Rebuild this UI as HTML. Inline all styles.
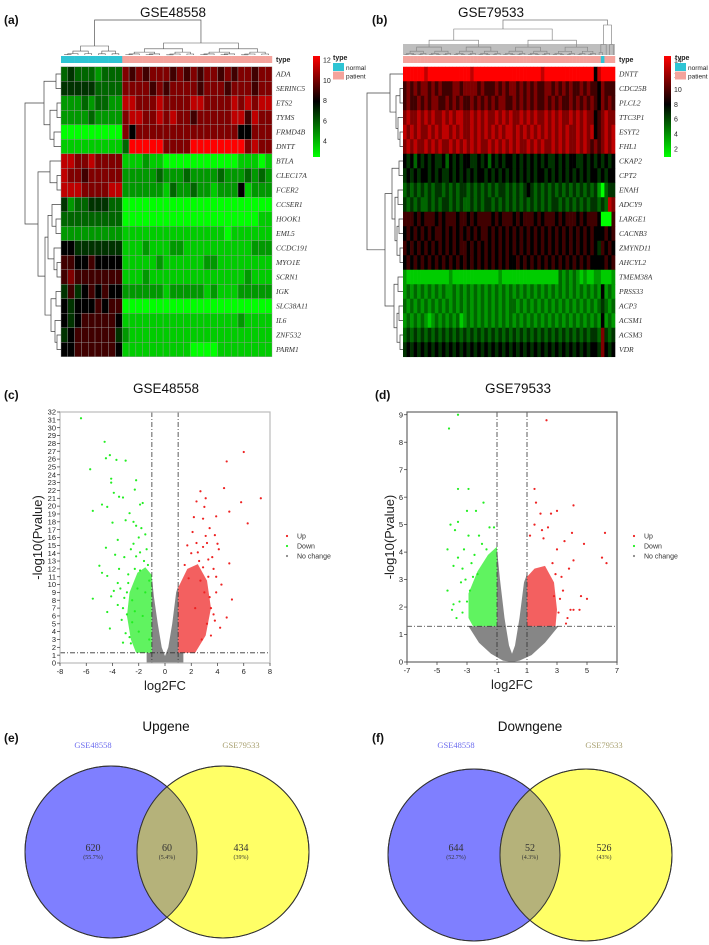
<!DOCTYPE html>
<html><head><meta charset="utf-8"><style>
html,body{margin:0;padding:0;background:#fff}
svg{display:block}
text{font-family:"Liberation Sans",sans-serif}
.gene{font-family:"Liberation Serif",serif;font-style:italic;font-size:7.5px;fill:#333}
.tick{font-size:7.5px;fill:#222}
.lab{font-weight:bold;font-size:12px;fill:#111}
.ttl{font-size:13.5px;fill:#111}
</style></head><body>
<svg id="fig" width="709" height="945" viewBox="0 0 709 945" xmlns="http://www.w3.org/2000/svg">
<defs>
<linearGradient id="gA" x1="0" y1="0" x2="0" y2="1"><stop offset="0" stop-color="#ff0000"/><stop offset="0.45" stop-color="#000"/><stop offset="1" stop-color="#00ff00"/></linearGradient>
<linearGradient id="gB" x1="0" y1="0" x2="0" y2="1"><stop offset="0" stop-color="#ff0000"/><stop offset="0.48" stop-color="#000"/><stop offset="1" stop-color="#00ff00"/></linearGradient>
<clipPath id="clipE"><circle cx="111" cy="852" r="86"/></clipPath>
<clipPath id="clipF"><circle cx="474" cy="855" r="86"/></clipPath>
</defs>

<text class="lab" x="4" y="24">(a)</text>
<text class="ttl" x="173" y="17" text-anchor="middle">GSE48558</text>
<text class="lab" x="372" y="24">(b)</text>
<text class="ttl" x="491" y="17" text-anchor="middle">GSE79533</text>
<text class="lab" x="4" y="399">(c)</text>
<text class="ttl" x="166" y="393" text-anchor="middle">GSE48558</text>
<text class="lab" x="375" y="399">(d)</text>
<text class="ttl" x="518" y="393" text-anchor="middle">GSE79533</text>
<text class="lab" x="4" y="742">(e)</text>
<text class="ttl" x="166" y="731" text-anchor="middle">Upgene</text>
<text class="lab" x="372" y="742">(f)</text>
<text class="ttl" x="530" y="731" text-anchor="middle">Downgene</text>

<g id="heatA"></g>
<g id="heatB"></g>
<g id="volC"></g>
<g id="volD"></g>

<g>
<circle cx="111" cy="852" r="86" fill="#7f7fff" stroke="#333" stroke-width="1"/>
<circle cx="223" cy="852" r="86" fill="#ffff66" stroke="#333" stroke-width="1"/>
<circle cx="223" cy="852" r="86" fill="#b5b27a" clip-path="url(#clipE)"/>
<circle cx="111" cy="852" r="86" fill="none" stroke="#333" stroke-width="1"/>
<circle cx="223" cy="852" r="86" fill="none" stroke="#333" stroke-width="1"/>
<text x="93" y="748" text-anchor="middle" font-size="8.5" fill="#6b6bee" style="font-family:'Liberation Serif',serif">GSE48558</text>
<text x="241" y="748" text-anchor="middle" font-size="8.5" fill="#a8a070" style="font-family:'Liberation Serif',serif">GSE79533</text>
<text x="93" y="851" text-anchor="middle" font-size="10" fill="#333" style="font-family:'Liberation Serif',serif">620</text>
<text x="93" y="859" text-anchor="middle" font-size="6" fill="#333" style="font-family:'Liberation Serif',serif">(55.7%)</text>
<text x="167" y="851" text-anchor="middle" font-size="10" fill="#333" style="font-family:'Liberation Serif',serif">60</text>
<text x="167" y="859" text-anchor="middle" font-size="6" fill="#333" style="font-family:'Liberation Serif',serif">(5.4%)</text>
<text x="241" y="851" text-anchor="middle" font-size="10" fill="#333" style="font-family:'Liberation Serif',serif">434</text>
<text x="241" y="859" text-anchor="middle" font-size="6" fill="#333" style="font-family:'Liberation Serif',serif">(39%)</text>
</g>
<g>
<circle cx="474" cy="855" r="86" fill="#7f7fff" stroke="#333" stroke-width="1"/>
<circle cx="586" cy="855" r="86" fill="#ffff66" stroke="#333" stroke-width="1"/>
<circle cx="586" cy="855" r="86" fill="#b5b27a" clip-path="url(#clipF)"/>
<circle cx="474" cy="855" r="86" fill="none" stroke="#333" stroke-width="1"/>
<circle cx="586" cy="855" r="86" fill="none" stroke="#333" stroke-width="1"/>
<text x="456" y="748" text-anchor="middle" font-size="8.5" fill="#6b6bee" style="font-family:'Liberation Serif',serif">GSE48558</text>
<text x="604" y="748" text-anchor="middle" font-size="8.5" fill="#a8a070" style="font-family:'Liberation Serif',serif">GSE79533</text>
<text x="456" y="851" text-anchor="middle" font-size="10" fill="#333" style="font-family:'Liberation Serif',serif">644</text>
<text x="456" y="859" text-anchor="middle" font-size="6" fill="#333" style="font-family:'Liberation Serif',serif">(52.7%)</text>
<text x="530" y="851" text-anchor="middle" font-size="10" fill="#333" style="font-family:'Liberation Serif',serif">52</text>
<text x="530" y="859" text-anchor="middle" font-size="6" fill="#333" style="font-family:'Liberation Serif',serif">(4.3%)</text>
<text x="604" y="851" text-anchor="middle" font-size="10" fill="#333" style="font-family:'Liberation Serif',serif">526</text>
<text x="604" y="859" text-anchor="middle" font-size="6" fill="#333" style="font-family:'Liberation Serif',serif">(43%)</text>
</g>
</svg>
<script>
const genesA = ["ADA","SERINC5","ETS2","TYMS","FRMD4B","DNTT","BTLA","CLEC17A","FCER2","CCSER1","HOOK1","EML5","CCDC191","MYO1E","SCRN1","IGK","SLC38A11","IL6","ZNF532","PARM1"];
const groupsA = ["N","N","N","N","N","N","N","N","N","P","P","P","P","P","P","P","P","P","P","P","P","P","P","P","P","P","P","P","P","P","P"];
const valuesA = [
"343332333"+"7676777676767767677677",
"444443333"+"7777676777767776777677",
"222323322"+"8877787777887777878788",
"222232222"+"7887787877677777886877",
"000000000"+"7577777777777777755777",
"111111111"+"3999997777999999997877",
"887787777"+"1112110000000000011101",
"877677777"+"2222232223222232223232",
"888777788"+"2222221322322122251222",
"423344433"+"0000000000000000000000",
"333333333"+"0000000000000000000011",
"222222222"+"1111111111111110111111",
"554444444"+"1112111221111111111222",
"665565555"+"1111121111112211111111",
"676666666"+"1112111111111111112111",
"464565655"+"2222221222221211122222",
"545556566"+"0000000000000000000000",
"545666665"+"1111111111111111121111",
"456666664"+"2111111111111111111111",
"556666665"+"1111111111000011111111"];
const ticksA = ["12","10","8","6","4"];

const genesB = ["DNTT","CDC25B","PLCL2","TTC3P1","ESYT2","FHL1","CKAP2","CPT2","ENAH","ADCY9","LARGE1","CACNB3","ZMYND11","AHCYL2","TMEM38A","PRSS33","ACP3","ACSM1","ACSM3","VDR"];
const normalColB = 56;
const valuesB = [
"999999899999999999989999999999999999999899999999999999589999",
"676767767676667767777676667676776767676677676767667676657666",
"676676767766767676676767676776676767676676767667676767657676",
"787787878778787887787878778787877878787787878778787877567877",
"878787787878878787787878787878878787878787878787787878567878",
"787877878787787878787877878787878778787877878787787876767878",
"545354545445354545544545354545545454545454454545544545454545",
"454545545454454545454554545454545454545545454545454545545455",
"343434343443434344343434343443434345434343434343434343420344",
"434343343434434343343434434343434343434343443434343434434387",
"666565666565666566565666656566656566656566656566656566650006",
"565656565665656565656566565656565656565656565656565656555656",
"656565656565656566565656565656565656565656565656565656546565",
"565656565656565656565656565656556565656565656565656565555656",
"211111111111121111111111111211111111111111113232321211221112",
"232323232323223232323232323232323232323232323232323232325232",
"323232323232323232323232323232332323232323232323232323234323",
"232323212323232312323232323232323232323232323232323232325232",
"343434343434343434343434343434343434343434343434343434437434",
"454545454545454545454545454545454545454545454545454545547545"];
const ticksB = ["14","12","10","8","6","4","2"];

const cDown = [[-6.4,31.2],[-4.6,28.2],[-4.2,26.5],[-4.5,26.1],[-3.7,25.9],[-3.0,25.8],[-5.7,24.7],[-4.1,23.5],[-4.1,23],[-2.2,23.3],[-2.3,22.1],[-3.9,21.7],[-3.5,21.2],[-3.2,21.1],[-4.8,20.2],[-4.4,19.9],[-1.9,20.2],[-1.7,20.4],[-5.5,19.4],[-2.7,19.1],[-3.0,18.2],[-4.0,17.9],[-2.4,18.0],[-2.2,17.5],[-3.6,15.7],[-1.5,16.4],[-2.0,16.0],[-4.5,14.7],[-5.0,12.4],[-4.8,11.5],[-4.4,11.1],[-5.5,8.2],[-4.2,4.4],[-3.9,9.2],[-4.4,6.5],[-3.2,7],[-2.9,9],[-3.5,12],[-3.1,13.5],[-2.6,14.5],[-2.3,12],[-2.8,11.3],[-1.9,14.1],[-1.6,13],[-1.3,12.5],[-1.2,10.5],[-1.5,9],[-2.1,9.5],[-2.5,8],[-3.3,5.5],[-2.0,4],[-1.2,3],[-1.7,6],[-3.6,10.2],[-2.4,15.2],[-1.8,17.2],[-3.8,13.8],[-2.9,6.2],[-3.0,3.8],[-2.6,2.5],[-1.4,14.5],[-2.2,13.6],[-4.1,8.5],[-3.4,9.5],[-2.8,10.2],[-2.5,5.2],[-3.1,8.3],[-2.3,6.6],[-3.6,7.4],[-1.9,11.8],[-2.7,3.3],[-3.2,2.6]];
const cDownCluster = [[-1,1.3],[-1,11.2],[-1.5,12.2],[-2.1,11.5],[-2.7,9],[-2.9,6],[-2.6,3],[-2.2,1.3]];
const cUp = [[6.0,26.9],[4.7,25.7],[4.5,22.3],[2.7,21.9],[3.1,21],[7.3,21],[2.4,20.6],[5.8,20.5],[3.0,19.9],[4.9,19.3],[2.2,18.6],[2.9,18.4],[3.9,18.7],[6.3,17.8],[3.4,17.2],[2.1,16.7],[3.8,16.3],[4.1,14.5],[3.2,15.3],[4.9,12.7],[5.1,8.1],[4.7,5.8],[3.5,7],[3.8,5.4],[3.9,9],[3.3,11],[2.6,13],[3.6,13.5],[2.9,14.8],[3.0,9],[2.3,7],[3.2,5],[1.7,15],[2.4,15.3],[3.7,12],[4.3,10],[2.8,3],[4.2,4.5],[3.1,16.2],[2.0,14],[1.5,12.5],[4.0,15.2],[2.7,10.5],[3.5,3.5],[1.8,10.8],[3.4,8.4],[3.7,6.2],[2.9,12.2],[3.9,11],[2.5,14.1],[3.3,13.2]];
const cUpCluster = [[1,1.3],[1,9.6],[1.7,12],[2.5,12.6],[3.2,10.5],[3.5,7],[3.1,3.5],[2.3,1.3]];
const cNoChange = [[-1.4,0],[-1.4,1.3],[-1,1.3],[-1,11],[-0.85,8.5],[-0.55,5],[-0.25,2],[0,0.9],[0.25,2],[0.55,5],[0.85,9],[1,9.8],[1,1.3],[1.4,1.3],[1.4,0]];

const dDown = [[-3.6,9],[-4.2,8.5],[-3.6,6.3],[-2.9,6.3],[-1.9,5.8],[-3.0,5.5],[-2.4,5.5],[-3.6,5.1],[-4.1,5],[-3.8,4.8],[-1.5,4.9],[-1.2,4.9],[-2.9,4.6],[-2.2,4.6],[-4.3,4.1],[-3.2,4.1],[-2.0,4.3],[-3.6,3.8],[-3.3,3.4],[-4.3,2.6],[-3.9,3.5],[-2.7,3.6],[-2.3,3.2],[-3.1,3],[-3.5,2.2],[-3.9,2.1],[-2.8,2.6],[-3.3,1.8],[-3.7,1.6],[-4.0,1.9],[-2.5,3.9],[-1.7,4.1],[-3.0,2.2],[-3.4,2.9],[-2.6,3.1]];
const dDownCluster = [[-1,1.3],[-1,4.2],[-1.6,3.9],[-2.3,3.3],[-2.9,2.5],[-2.9,1.6],[-2.6,1.3]];
const dUp = [[2.3,8.8],[1.5,6.3],[1.6,5.8],[4.1,5.7],[3.0,5.5],[1.9,5.4],[2.6,5.4],[1.5,5],[2.4,4.9],[2.0,4.8],[3.5,4.4],[4.0,4.7],[6.2,4.7],[4.8,4.3],[2.1,4.5],[3.0,4.1],[1.2,4.6],[6.0,3.8],[6.3,3.6],[4.1,3.7],[3.8,3.4],[2.7,3.6],[3.3,3.1],[4.6,2.4],[5.0,2.3],[3.9,1.9],[4.1,1.9],[3.7,1.6],[3.2,2.3],[2.9,3.2],[3.6,1.4],[4.5,1.9],[3.4,2.6],[3.1,1.8],[2.8,2.4]];
const dUpCluster = [[1,1.3],[1,3.1],[1.5,3.4],[2.2,3.5],[2.8,2.9],[3.0,1.9],[2.9,1.3]];
const dNoChange = [[-2.9,1.3],[-1,1.3],[-1,4.1],[-0.8,3.0],[-0.5,1.6],[-0.2,0.6],[0,0.3],[0.2,0.6],[0.5,1.6],[0.8,2.9],[1,3.2],[1,1.3],[3.1,1.3],[2.2,0.7],[1.3,0.25],[0.5,0.05],[0,0],[-0.6,0.05],[-1.4,0.3],[-2.2,0.7]];

const NS = "http://www.w3.org/2000/svg";
function mk(tag, attrs, parent){const e=document.createElementNS(NS,tag);for(const k in attrs)e.setAttribute(k,attrs[k]);if(parent)parent.appendChild(e);return e;}
function col(v){v=+v; if(v<=5){const g=Math.round(255*(5-v)/5);return `rgb(0,${g},0)`;} const r=Math.round(255*(v-5)/4);return `rgb(${r},0,0)`;}

const rowTop = 66.75, rowH = 14.5;
function drawHeat(gid, genes, values, L, R, nCols, grid, groupFn){
  const g=document.getElementById(gid);
  const cw=(R-L)/nCols;
  for(let j=0;j<nCols;j++){
    const r=mk('rect',{x:L+j*cw,y:56,width:cw+0.2,height:7,fill:groupFn(j)==='N'?'#2ec4d4':'#f4a39c'},g);
    
    
  }
  values.forEach((rowStr,i)=>{
    const s=rowStr.padEnd(nCols,rowStr[rowStr.length-1]).slice(0,nCols);
    for(let j=0;j<nCols;j++){
      const r=mk('rect',{x:L+j*cw,y:rowTop+i*rowH,width:cw+(grid?0:0.3),height:rowH+(grid?0:0.3),fill:col(s[j])},g);
      if(grid){r.setAttribute('stroke','#999');r.setAttribute('stroke-width','0.4');}
      
      
    }
    const t=mk('text',{x:R+4,y:rowTop+i*rowH+rowH/2+2.6,class:'gene'},g);
    t.textContent=genes[i];
    
    
  });
  const tt=mk('text',{x:R+4,y:62,'font-size':'7','font-weight':'bold',fill:'#222'},g);
  tt.textContent='type';
  
  
}
drawHeat('heatA',genesA,valuesA,61,272,31,true,j=>groupsA[j]);
drawHeat('heatB',genesB,valuesB,403,615,60,false,j=>j===normalColB?'N':'P');

function legend(gid,x,grad,ticks,y0,dy,tx){
  const g=document.getElementById(gid);
  const b=mk('rect',{x:x,y:56,width:7,height:101,fill:`url(#${grad})`},g);
  
  
  ticks.forEach((t,i)=>{const e=mk('text',{x:x+10,y:y0+i*dy+2.5,'font-size':'7',fill:'#222'},g);e.textContent=t;
    
    });
  const ty=mk('text',{x:tx,y:60,'font-size':'7','font-weight':'bold',fill:'#222'},g);ty.textContent='type';
  
  
  mk('rect',{x:tx,y:63,width:11,height:8,fill:'#2ec4d4'},g);
  mk('rect',{x:tx,y:71.5,width:11,height:8,fill:'#f4a39c'},g);
  const n=mk('text',{x:tx+13,y:70,'font-size':'6.5',fill:'#222'},g);n.textContent='normal';
  
  
  const p=mk('text',{x:tx+13,y:78.5,'font-size':'6.5',fill:'#222'},g);p.textContent='patient';
  
  
}
legend('heatA',313,'gA',ticksA,60,20.3,333);
legend('heatB',664,'gB',ticksB,60,14.8,675);

function rowY(i){return rowTop+i*rowH+rowH/2;}
function drawTreeLeft(g,node,xLeaf,color){
  if(typeof node==='number') return {y:rowY(node),x:xLeaf};
  const a=drawTreeLeft(g,node[0],xLeaf,color), b=drawTreeLeft(g,node[1],xLeaf,color), x=node[2];
  mk('path',{d:`M${a.x},${a.y}H${x}V${b.y}H${b.x}`,fill:'none',stroke:color,'stroke-width':0.7},g);
  return {y:(a.y+b.y)/2,x:x};
}
const gA=document.getElementById('heatA'), gB=document.getElementById('heatB');
drawTreeLeft(gA,[[[0,1,56],[[2,3,57],[4,5,54],50],44],[[6,[7,8,57],50],[[[9,[10,11,56],52],[12,[13,14,57],54],48],[[15,16,56],[17,[18,19,57],55],51],45],38],25],61,'#444');
drawTreeLeft(gB,[[0,[[1,2,400],[3,[4,5,400],398],396],390],[[[6,7,399],[[8,9,398],[[10,11,399],[12,13,400],397],395],392],[[14,15,398],[[16,17,399],[18,19,400],397],394],385],367],403,'#444');

function drawTreeTop(g,lo,hi,L,cw,yTop,yLeaf,color,w){
  if(lo===hi) return {x:L+(lo+0.5)*cw,y:yLeaf};
  const mid=Math.floor((lo+hi)/2);
  const span=hi-lo;
  const yChild=yTop+(yLeaf-yTop)*Math.min(0.85,0.35+0.6/Math.sqrt(span));
  const a=drawTreeTop(g,lo,mid,L,cw,yChild,yLeaf,color,w), b=drawTreeTop(g,mid+1,hi,L,cw,yChild,yLeaf,color,w);
  mk('path',{d:`M${a.x},${a.y}V${yTop}H${b.x}V${b.y}`,fill:'none',stroke:color,'stroke-width':w},g);
  return {x:(a.x+b.x)/2,y:yTop};
}
{ const cw=211/31;
  const n=drawTreeTop(gA,0,8,61,cw,46,55,'#555',0.6);
  const p=drawTreeTop(gA,9,30,61,cw,43,55,'#555',0.6);
  mk('path',{d:`M${n.x},46V20H${p.x}V43`,fill:'none',stroke:'#555','stroke-width':0.7},gA);
}
{ const cw=212/60;
  const a=drawTreeTop(gB,0,54,403,cw,29,55,'#777',0.6);
  const b=drawTreeTop(gB,55,59,403,cw,25,55,'#777',0.6);
  mk('path',{d:`M${a.x},29V20H${b.x}V25`,fill:'none',stroke:'#777','stroke-width':0.7},gB);
  mk('rect',{x:403,y:44,width:212,height:11,fill:'#888',opacity:0.55},gB);
}

function volcano(gid,cfg){
  const g=document.getElementById(gid);
  const xs=v=>cfg.L+(v-cfg.xmin)/(cfg.xmax-cfg.xmin)*(cfg.R-cfg.L);
  const ys=v=>cfg.B-(v-cfg.ymin)/(cfg.ymax-cfg.ymin)*(cfg.B-cfg.T);
  const poly=(pts,fill,op,name)=>{const p=mk('polygon',{points:pts.map(p=>xs(p[0])+','+ys(p[1])).join(' '),fill:fill,opacity:op},g);
    };
  poly(cfg.gray,'#808080',0.95,'no-change-cloud');
  poly(cfg.downC,'#22ee22',0.72,'down-cluster');
  poly(cfg.upC,'#ee2222',0.72,'up-cluster');
  const dots=(arr,fill,name)=>arr.forEach(p=>{const c=mk('circle',{cx:xs(p[0]),cy:ys(p[1]),r:1.1,fill:fill},g);
    });
  dots(cfg.down,'#22ee22','down-point');
  dots(cfg.up,'#ee2222','up-point');
  const dash='5,2,1,2';
  [[-1],[1]].forEach(v=>{const l=mk('line',{x1:xs(v[0]),x2:xs(v[0]),y1:cfg.T,y2:cfg.B,stroke:'#333','stroke-width':0.8,'stroke-dasharray':dash},g);
    });
  const h=mk('line',{x1:cfg.L,x2:cfg.R,y1:ys(1.3),y2:ys(1.3),stroke:'#333','stroke-width':0.8,'stroke-dasharray':dash},g);
  
  const f=mk('rect',{x:cfg.L,y:cfg.T,width:cfg.R-cfg.L,height:cfg.B-cfg.T,fill:'none',stroke:cfg.frame,'stroke-width':1.2},g);
  
  cfg.xt.forEach(t=>{mk('line',{x1:xs(t),x2:xs(t),y1:cfg.B,y2:cfg.B+3,stroke:'#333','stroke-width':0.7},g);
    const e=mk('text',{x:xs(t),y:cfg.B+11,class:'tick','text-anchor':'middle'},g);e.textContent=t;
    });
  cfg.yt.forEach(t=>{mk('line',{x1:cfg.L-3,x2:cfg.L,y1:ys(t),y2:ys(t),stroke:'#333','stroke-width':0.7},g);
    const e=mk('text',{x:cfg.L-4,y:ys(t)+2.6,class:'tick','text-anchor':'end','font-size':cfg.yfs},g);e.textContent=t;
    });
  const xt=mk('text',{x:(cfg.L+cfg.R)/2,y:cfg.B+27,'text-anchor':'middle','font-size':'13',fill:'#222'},g);xt.textContent='log2FC';
  
  const cy=(cfg.T+cfg.B)/2;
  const yt=mk('text',{x:cfg.yx,y:cy,'text-anchor':'middle','font-size':'13',fill:'#222',transform:`rotate(-90 ${cfg.yx} ${cy})`},g);yt.textContent='-log10(Pvalue)';
  
  [['Up','#ee2222'],['Down','#22ee22'],['No change','#888']].forEach((e,i)=>{
    mk('circle',{cx:cfg.lx,cy:536+i*10,r:1.1,fill:e[1]},g);
    const t=mk('text',{x:cfg.lx+10,y:538.5+i*10,'font-size':'7',fill:'#333'},g);t.textContent=e[0];
    });
}
const cXT=[-8,-6,-4,-2,0,2,4,6,8], cYT=[...Array(33).keys()];
const dXT=[-7,-5,-3,-1,1,3,5,7], dYT=[0,1,2,3,4,5,6,7,8,9];
volcano('volC',{L:60,R:270,T:412,B:663,xmin:-8,xmax:8,ymin:0,ymax:32,xt:cXT,yt:cYT,yfs:'7',frame:'#bbb',yx:42,lx:287,
  up:cUp,down:cDown,upC:cUpCluster,downC:cDownCluster,gray:cNoChange});
volcano('volD',{L:407,R:617,T:412,B:662,xmin:-7,xmax:7,ymin:0,ymax:9.1,xt:dXT,yt:dYT,yfs:'7.5',frame:'#666',yx:394,lx:634,
  up:dUp,down:dDown,upC:dUpCluster,downC:dDownCluster,gray:dNoChange});
</script>
</body></html>
